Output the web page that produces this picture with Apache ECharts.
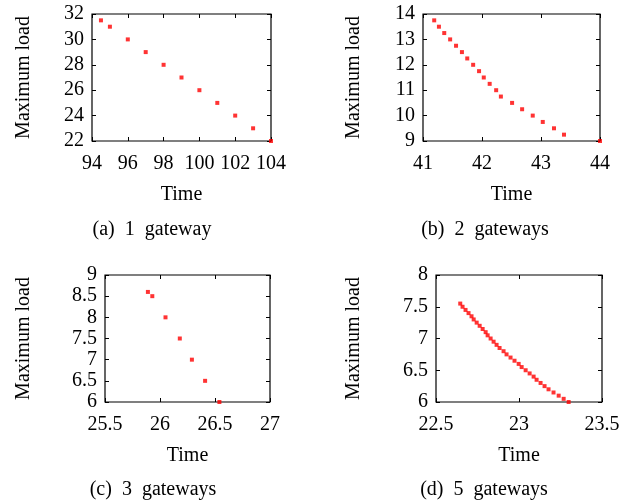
<!DOCTYPE html>
<html>
<head>
<meta charset="utf-8">
<script src="https://cdn.jsdelivr.net/npm/echarts@6/dist/echarts.min.js"></script>
<style>
html,body{margin:0;padding:0;background:#fff;}
#main{width:641px;height:502px;}
</style>
</head>
<body>
<div id="main"></div>
<script>
// data: time vs maximum load
var time1 = [94.5, 95, 96, 97, 98, 99, 100, 101, 102, 103, 104];
var load1 = [31.5, 31, 30, 29, 28, 27, 26, 25, 24, 23, 22];

var time2 = [41.19, 41.27, 41.36, 41.46, 41.56, 41.66, 41.75, 41.85, 41.95, 42.03, 42.13, 42.24, 42.32, 42.51, 42.68, 42.86, 43.03, 43.22, 43.39, 44.0];
var load2 = [13.75, 13.5, 13.25, 13, 12.75, 12.5, 12.25, 12, 11.75, 11.5, 11.25, 11, 10.75, 10.5, 10.25, 10, 9.75, 9.5, 9.25, 9];

var time3 = [25.89, 25.93, 26.05, 26.18, 26.29, 26.41, 26.54];
var load3 = [8.6, 8.5, 8, 7.5, 7, 6.5, 6];

var time5 = [22.646, 22.66, 22.678, 22.696, 22.714, 22.727, 22.745, 22.763, 22.781, 22.799, 22.811, 22.829, 22.847, 22.865, 22.883, 22.907,
             22.925, 22.949, 22.973, 22.998, 23.016, 23.04, 23.064, 23.088, 23.106, 23.13, 23.154, 23.178, 23.208, 23.239, 23.269, 23.299];
var load5 = [7.55, 7.5, 7.45, 7.4, 7.35, 7.3, 7.25, 7.2, 7.15, 7.1, 7.05, 7, 6.95, 6.9, 6.85, 6.8,
             6.75, 6.7, 6.65, 6.6, 6.55, 6.5, 6.45, 6.4, 6.35, 6.3, 6.25, 6.2, 6.15, 6.1, 6.05, 6];

var captions = ['(a)  1  gateway', '(b)  2  gateways', '(c)  3  gateways', '(d)  5  gateways'];
var xRanges = [[94, 104, 2], [41, 44, 1], [25.5, 27, 0.5], [22.5, 23.5, 0.5]];
var yRanges = [[22, 32, 2], [9, 14, 1], [6, 9, 0.5], [6, 8, 0.5]];

var font = 'Liberation Serif';
var fs = 20;
var panels = [
  {left: 92, top: 14, width: 179, height: 127, yGap: 58, capX: 152, capY: 220},
  {left: 423, top: 14, width: 177, height: 127, yGap: 59, capX: 485, capY: 220},
  {left: 105, top: 275, width: 165, height: 127, yGap: 71, capX: 153, capY: 480},
  {left: 436, top: 275, width: 166, height: 127, yGap: 72, capX: 484, capY: 480}
];
var series = [[time1, load1], [time2, load2], [time3, load3], [time5, load5]];

function pairs(xs, ys){
  var out = [];
  for (var i = 0; i < xs.length; i++) out.push([xs[i], ys[i]]);
  return out;
}

var grid = [], xAxis = [], yAxis = [], ser = [], title = [];
panels.forEach(function(p, i){
  grid.push({left: p.left, top: p.top, width: p.width, height: p.height,
             show: true, borderColor: '#000', borderWidth: 1.2, backgroundColor: '#fff'});
  // bottom / left axes with labels
  xAxis.push({
    gridIndex: i, type: 'value', min: xRanges[i][0], max: xRanges[i][1], interval: xRanges[i][2],
    name: 'Time', nameLocation: 'middle', nameGap: 44,
    nameTextStyle: {fontFamily: font, fontSize: fs, color: '#000'},
    axisLine: {show: false}, splitLine: {show: false},
    axisTick: {inside: true, length: 4, lineStyle: {color: '#000'}},
    axisLabel: {fontFamily: font, fontSize: fs, color: '#000', margin: 13}
  });
  yAxis.push({
    gridIndex: i, type: 'value', min: yRanges[i][0], max: yRanges[i][1], interval: yRanges[i][2],
    name: 'Maximum load', nameLocation: 'middle', nameGap: p.yGap,
    nameTextStyle: {fontFamily: font, fontSize: fs, color: '#000'},
    axisLine: {show: false}, splitLine: {show: false},
    axisTick: {inside: true, length: 4, lineStyle: {color: '#000'}},
    axisLabel: {fontFamily: font, fontSize: fs, color: '#000', margin: 8}
  });
  ser.push({
    type: 'scatter', xAxisIndex: i, yAxisIndex: i, symbol: 'rect', symbolSize: 4,
    itemStyle: {color: '#f00'}, clip: true, data: pairs(series[i][0], series[i][1])
  });
  title.push({text: captions[i], left: p.capX, top: p.capY, textAlign: 'center', padding: 0,
              textStyle: {fontFamily: font, fontSize: fs, fontWeight: 'normal', color: '#000'}});
});
// mirror ticks on top / right
panels.forEach(function(p, i){
  xAxis.push({
    gridIndex: i, type: 'value', position: 'top', min: xRanges[i][0], max: xRanges[i][1], interval: xRanges[i][2],
    axisLine: {show: false}, splitLine: {show: false}, axisLabel: {show: false},
    axisTick: {inside: true, length: 4, lineStyle: {color: '#000'}}
  });
  yAxis.push({
    gridIndex: i, type: 'value', position: 'right', min: yRanges[i][0], max: yRanges[i][1], interval: yRanges[i][2],
    axisLine: {show: false}, splitLine: {show: false}, axisLabel: {show: false},
    axisTick: {inside: true, length: 4, lineStyle: {color: '#000'}}
  });
});

var chart = echarts.init(document.getElementById('main'));
chart.setOption({
  animation: false,
  backgroundColor: '#fff',
  title: title,
  grid: grid,
  xAxis: xAxis,
  yAxis: yAxis,
  series: ser
});
</script>
</body>
</html>
